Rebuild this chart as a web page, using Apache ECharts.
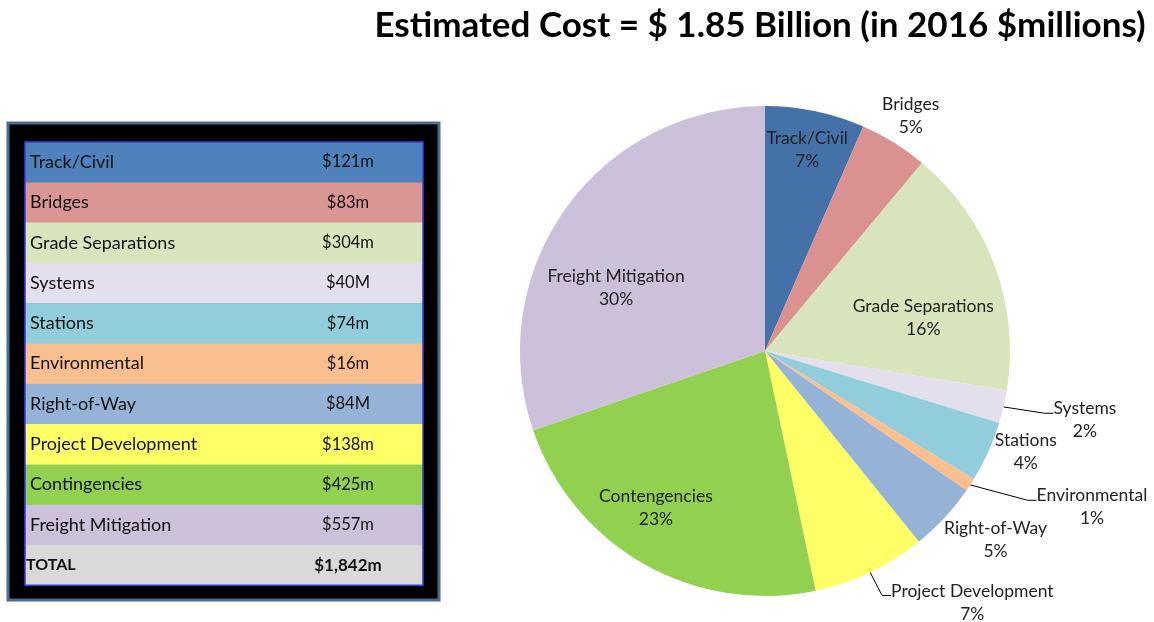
<!DOCTYPE html>
<html><head><meta charset="utf-8">
<script src="https://cdn.jsdelivr.net/npm/echarts@6/dist/echarts.min.js"></script>
<style>html,body{margin:0;padding:0;background:#fff}#c{width:1154px;height:622px}</style>
</head><body><div id="c"></div>
<script>
// ---- data ----
const titleText = 'Estimated Cost = $ 1.85 Billion (in 2016 $millions)';
const tableNames = ['Track/Civil','Bridges','Grade Separations','Systems','Stations','Environmental','Right-of-Way','Project Development','Contingencies','Freight Mitigation'];
const pieNames = ['Track/Civil','Bridges','Grade Separations','Systems','Stations','Environmental','Right-of-Way','Project Development','Contengencies','Freight Mitigation'];
const values = [121, 83, 304, 40, 74, 16, 84, 138, 425, 557];
const tableValueLabels = ['$121m','$83m','$304m','$40M','$74m','$16m','$84M','$138m','$425m','$557m'];
const totalName = 'TOTAL';
const totalLabel = '$1,842m';

// ---- styles ----
const tableColors = ['#4F81BD','#DA9694','#D8E4BC','#E4DFEC','#92CDDC','#FABF8F','#95B3D7','#FFFF66','#92D050','#CCC0DA'];
const pieColors   = ['#4571A9','#DA9190','#D8E4BC','#E4DFEC','#92CDDC','#FABF8F','#95B3D7','#FFFF66','#92D050','#CCC0DA'];
const totalColor = '#D9D9D9';
const FONT = 'Lato';

// pie geometry
const CX = 765, CY = 351, R = 245;
// label placement: radius factor and angular shift (deg) relative to slice mid angle
const labelPlacement = [
  {r:0.84, da:0}, {r:1.13, da:0}, {r:0.66, da:8.6}, {r:1.336, da:-1, line:true},
  {r:1.142, da:-3.1}, {r:1.479, da:-7.6, line:true}, {r:1.216, da:-3.6},
  {r:1.33, da:-14.1, line:true}, {r:0.78, da:5.2}, {r:0.66, da:-12.6}
];

const total = values.reduce((a,b)=>a+b,0);
const midAngles = [];
{ let acc = 0; values.forEach(v => { midAngles.push((acc + v/2)/total*2*Math.PI); acc += v; }); }

// ---- table graphics ----
const T = {x:8, y:123, w:431, h:477, ix:25, iy:142, iw:398, rowH:40.3, textX:30, valX:348};
const graphics = [];
graphics.push({type:'rect', shape:{x:T.x, y:T.y, width:T.w, height:T.h}, style:{fill:'#000', stroke:'#4F6A8F', lineWidth:3}});
const rows = tableNames.map((n,i)=>({name:n, val:tableValueLabels[i], color:tableColors[i], bold:false}));
rows.push({name:totalName, val:totalLabel, color:totalColor, bold:true});
rows.forEach((r,i)=>{
  const y = T.iy + i*T.rowH;
  graphics.push({type:'rect', shape:{x:T.ix, y:y, width:T.iw, height:T.rowH+0.5}, style:{fill:r.color}});
  graphics.push({type:'text', x: r.bold ? T.ix+1 : T.textX, y: y+T.rowH/2, style:{text:r.name, fill:'#111', font:(r.bold?'bold 16px ':'18px ')+FONT, verticalAlign:'middle'}});
  graphics.push({type:'text', x:T.valX, y: y+T.rowH/2, style:{text:r.val, fill:'#111', font:(r.bold?'bold 17px ':'16.5px ')+FONT, align:'center', verticalAlign:'middle'}});
});
graphics.push({type:'rect', shape:{x:T.ix, y:T.iy, width:T.iw, height:T.rowH*rows.length}, style:{fill:'none', stroke:'#3B3BE8', lineWidth:1.5}});
graphics.push({type:'text', x:760, y:26, style:{text:titleText, font:'bold 35px '+FONT, fill:'#000', align:'center', verticalAlign:'middle'}});

const chart = echarts.init(document.getElementById('c'));
chart.setOption({
  backgroundColor:'#fff',
  animation:false,
  graphic: graphics,
  series:[{
    type:'pie',
    center:[CX, CY],
    radius:R,
    startAngle:90,
    clockwise:true,
    percentPrecision:0,
    avoidLabelOverlap:false,
    itemStyle:{borderWidth:0},
    label:{show:true, position:'outside', formatter:'{b}\n{d}%', color:'#222', fontFamily:FONT, fontSize:17.5, lineHeight:23, align:'center'},
    labelLine:{show:false, lineStyle:{color:'#000', width:1}},
    data: values.map((v,i)=>({value:v, name:pieNames[i], itemStyle:{color:pieColors[i]},
      labelLine:{show: !!labelPlacement[i].line, length:10, length2:10}})),
    labelLayout: function(p){
      const i = p.dataIndex, pl = labelPlacement[i];
      const a = midAngles[i] + pl.da*Math.PI/180;
      const x = CX + Math.sin(a)*R*pl.r, y = CY - Math.cos(a)*R*pl.r;
      const res = {x:x, y:y, align:'center', verticalAlign:'middle'};
      if (pl.line) {
        const m = midAngles[i];
        const w = p.labelRect.width, h = p.labelRect.height;
        const ex = x - w/2, ey = y - h*0.15;
        res.labelLinePoints = [[CX + Math.sin(m)*R, CY - Math.cos(m)*R], [ex-9, ey], [ex, ey]];
      }
      return res;
    }
  }]
});
</script></body></html>
